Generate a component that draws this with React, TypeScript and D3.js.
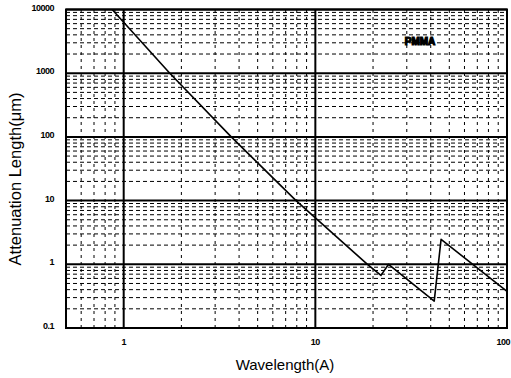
import { useEffect, useRef } from 'react';
import * as d3 from 'd3';

// PMMA attenuation length vs wavelength
const wavelengths = [0.87, 1.74, 3.64, 7.93, 18.7, 22.0, 24.1, 41.7, 45.3, 100];
const attenuation = [10000, 1000, 100, 10, 1, 0.67, 1.0, 0.265, 2.47, 0.376];

const xTickValues = [1, 10, 100];
const yTickValues = [0.1, 1, 10, 100, 1000, 10000];
const xDomain = [0.5, 100];
const yDomain = [0.1, 10000];
const materialLabel = 'PMMA';

export default function App() {
    const svgRef = useRef<SVGSVGElement | null>(null);

    useEffect(() => {
        const width = 511;
        const height = 378;
        const margin = { top: 9.5, right: 4, bottom: 50, left: 66 };

        const svg = d3.select(svgRef.current);
        svg.selectAll('*').remove();

        const x = d3.scaleLog().domain(xDomain).range([margin.left, width - margin.right]);
        const y = d3.scaleLog().domain(yDomain).range([height - margin.bottom, margin.top]);

        const [x0, x1] = x.range();
        const [y0, y1] = y.range();

        // minor grid: 2..9 within each decade
        const minorX: number[] = [];
        for (let d = 0.1; d < 100; d *= 10) {
            for (let k = 2; k <= 9; k++) {
                const v = +(d * k).toPrecision(3);
                if (v > xDomain[0] && v < xDomain[1] && !xTickValues.includes(v)) minorX.push(v);
            }
        }
        const minorY: number[] = [];
        for (let d = 0.1; d < 10000; d *= 10) {
            for (let k = 2; k <= 9; k++) minorY.push(+(d * k).toPrecision(3));
        }

        const grid = svg.append('g');

        grid.selectAll('.minor-y')
            .data(minorY)
            .enter()
            .append('line')
            .attr('x1', x0)
            .attr('x2', x1)
            .attr('y1', d => y(d))
            .attr('y2', d => y(d))
            .attr('stroke', '#000')
            .attr('stroke-width', 1)
            .attr('stroke-dasharray', '4,3');

        grid.selectAll('.minor-x')
            .data(minorX)
            .enter()
            .append('line')
            .attr('x1', d => x(d))
            .attr('x2', d => x(d))
            .attr('y1', y0)
            .attr('y2', y1)
            .attr('stroke', '#000')
            .attr('stroke-width', 1)
            .attr('stroke-dasharray', '3,4');

        // major grid
        grid.selectAll('.major-y')
            .data(yTickValues)
            .enter()
            .append('line')
            .attr('x1', x0)
            .attr('x2', x1)
            .attr('y1', d => y(d))
            .attr('y2', d => y(d))
            .attr('stroke', '#000')
            .attr('stroke-width', 2);

        grid.selectAll('.major-x')
            .data(xTickValues)
            .enter()
            .append('line')
            .attr('x1', d => x(d))
            .attr('x2', d => x(d))
            .attr('y1', y0)
            .attr('y2', y1)
            .attr('stroke', '#000')
            .attr('stroke-width', 2);

        // frame
        svg.append('rect')
            .attr('x', x0)
            .attr('y', y1)
            .attr('width', x1 - x0)
            .attr('height', y0 - y1)
            .attr('fill', 'none')
            .attr('stroke', '#000')
            .attr('stroke-width', 2);

        // curve
        const points = wavelengths.map((w, i) => [w, attenuation[i]] as [number, number]);
        const line = d3.line<[number, number]>()
            .x(d => x(d[0]))
            .y(d => y(d[1]));

        svg.append('path')
            .datum(points)
            .attr('d', line)
            .attr('fill', 'none')
            .attr('stroke', '#000')
            .attr('stroke-width', 1.6)
            .attr('stroke-linejoin', 'round');

        // tick labels
        const font = '"Liberation Sans", Arial, sans-serif';

        svg.selectAll('.ylab')
            .data(yTickValues)
            .enter()
            .append('text')
            .attr('x', 54)
            .attr('y', d => y(d) + 1)
            .attr('text-anchor', 'end')
            .style('font-family', font)
            .style('font-size', '9px')
            .style('font-weight', 'bold')
            .style('letter-spacing', '-0.5px')
            .text(d => String(d));

        // last label sits at the right edge, so anchor it from its end
        svg.selectAll('.xlab')
            .data(xTickValues)
            .enter()
            .append('text')
            .attr('x', (d, i) => (i === xTickValues.length - 1 ? width - 1 : x(d)))
            .attr('y', 345)
            .attr('text-anchor', (d, i) => (i === xTickValues.length - 1 ? 'end' : 'middle'))
            .style('font-family', font)
            .style('font-size', '9px')
            .style('font-weight', 'bold')
            .style('letter-spacing', '-0.5px')
            .text(d => String(d));

        // axis titles
        svg.append('text')
            .attr('x', 285)
            .attr('y', 370)
            .attr('text-anchor', 'middle')
            .style('font-family', font)
            .style('font-size', '15px')
            .text('Wavelength(A)');

        svg.append('text')
            .attr('transform', `translate(21, 179) rotate(-90)`)
            .attr('text-anchor', 'middle')
            .style('font-family', font)
            .style('font-size', '16.5px')
            .text('Attenuation Length(μm)');

        // material label
        svg.append('text')
            .attr('x', 420)
            .attr('y', 45)
            .attr('text-anchor', 'middle')
            .style('font-family', font)
            .style('font-size', '10px')
            .style('font-weight', 'bold')
            .attr('stroke', '#000')
            .attr('stroke-width', 1.2)
            .text(materialLabel);
    }, []);

    return (
        <svg
            ref={svgRef}
            width={511}
            height={378}
            style={{ position: 'absolute', left: 0, top: 0, background: '#fff' }}
        />
    );
}
